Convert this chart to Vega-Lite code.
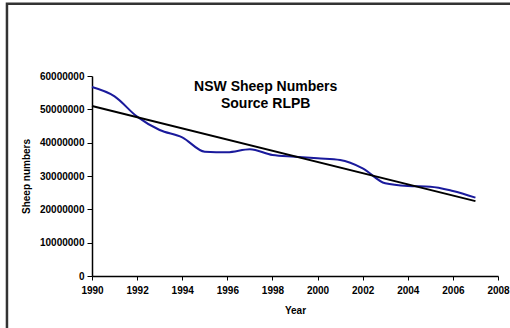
{
  "$schema": "https://vega.github.io/schema/vega-lite/v6.json",
  "width": 406,
  "height": 200,
  "autosize": {"type": "none"},
  "padding": {"left": 92, "top": 76, "right": 12, "bottom": 52},
  "background": "white",
  "config": {
    "view": {"stroke": null},
    "font": "Liberation Sans"
  },
  "data": {
    "values": [
      {"year": 1990, "sheep": 56700000},
      {"year": 1991, "sheep": 53900000},
      {"year": 1992, "sheep": 47800000},
      {"year": 1993, "sheep": 43800000},
      {"year": 1994, "sheep": 41600000},
      {"year": 1995, "sheep": 37300000},
      {"year": 1996, "sheep": 37100000},
      {"year": 1997, "sheep": 38000000},
      {"year": 1998, "sheep": 36300000},
      {"year": 1999, "sheep": 35800000},
      {"year": 2000, "sheep": 35300000},
      {"year": 2001, "sheep": 34800000},
      {"year": 2002, "sheep": 32300000},
      {"year": 2003, "sheep": 27800000},
      {"year": 2004, "sheep": 27000000},
      {"year": 2005, "sheep": 26800000},
      {"year": 2006, "sheep": 25500000},
      {"year": 2007, "sheep": 23500000}
    ]
  },
  "encoding": {
    "x": {
      "field": "year",
      "type": "quantitative",
      "scale": {"domain": [1990, 2008], "nice": false, "zero": false},
      "axis": {
        "title": "Year",
        "values": [1990, 1992, 1994, 1996, 1998, 2000, 2002, 2004, 2006, 2008],
        "format": "d",
        "grid": false,
        "domainColor": "#000000",
        "domainWidth": 1.5,
        "tickColor": "#000000",
        "tickSize": 4,
        "labelFont": "Liberation Sans",
        "labelFontSize": 10,
        "labelFontWeight": "bold",
        "labelColor": "#000000",
        "labelPadding": 5,
        "labelFlush": false,
        "titleFont": "Liberation Sans",
        "titleFontSize": 10,
        "titleFontWeight": "bold",
        "titleColor": "#000000",
        "titlePadding": 10
      }
    },
    "y": {
      "field": "sheep",
      "type": "quantitative",
      "scale": {"domain": [0, 60000000], "nice": false},
      "axis": {
        "title": "Sheep numbers",
        "values": [0, 10000000, 20000000, 30000000, 40000000, 50000000, 60000000],
        "format": "d",
        "grid": false,
        "domainColor": "#000000",
        "domainWidth": 1.5,
        "tickColor": "#000000",
        "tickSize": 5,
        "labelFont": "Liberation Sans",
        "labelFontSize": 10,
        "labelFontWeight": "bold",
        "labelColor": "#000000",
        "labelPadding": 3,
        "labelFlush": false,
        "titleFont": "Liberation Sans",
        "titleFontSize": 10,
        "titleFontWeight": "bold",
        "titleColor": "#000000",
        "titlePadding": 8
      }
    }
  },
  "layer": [
    {
      "mark": {"type": "line", "interpolate": "monotone", "color": "#1a1a9c", "strokeWidth": 2}
    },
    {
      "transform": [{"regression": "sheep", "on": "year"}],
      "mark": {"type": "line", "color": "#000000", "strokeWidth": 2}
    },
    {
      "transform": [{"filter": "datum.year == 1990"}],
      "mark": {
        "type": "text",
        "text": ["NSW Sheep Numbers", "Source RLPB"],
        "font": "Liberation Sans",
        "fontSize": 14,
        "fontWeight": "bold",
        "color": "#000000",
        "align": "center",
        "baseline": "top",
        "lineHeight": 17
      },
      "encoding": {
        "x": {"datum": 1997.7},
        "y": {"datum": 58700000}
      }
    },
    {
      "transform": [{"filter": "datum.year == 1990"}],
      "mark": {"type": "rect", "fill": null, "stroke": "#333333", "strokeWidth": 2.5, "clip": false},
      "encoding": {
        "x": {"datum": 1986.23},
        "x2": {"datum": 2040},
        "y": {"datum": 81700000},
        "y2": {"datum": -40000000}
      }
    }
  ]
}
